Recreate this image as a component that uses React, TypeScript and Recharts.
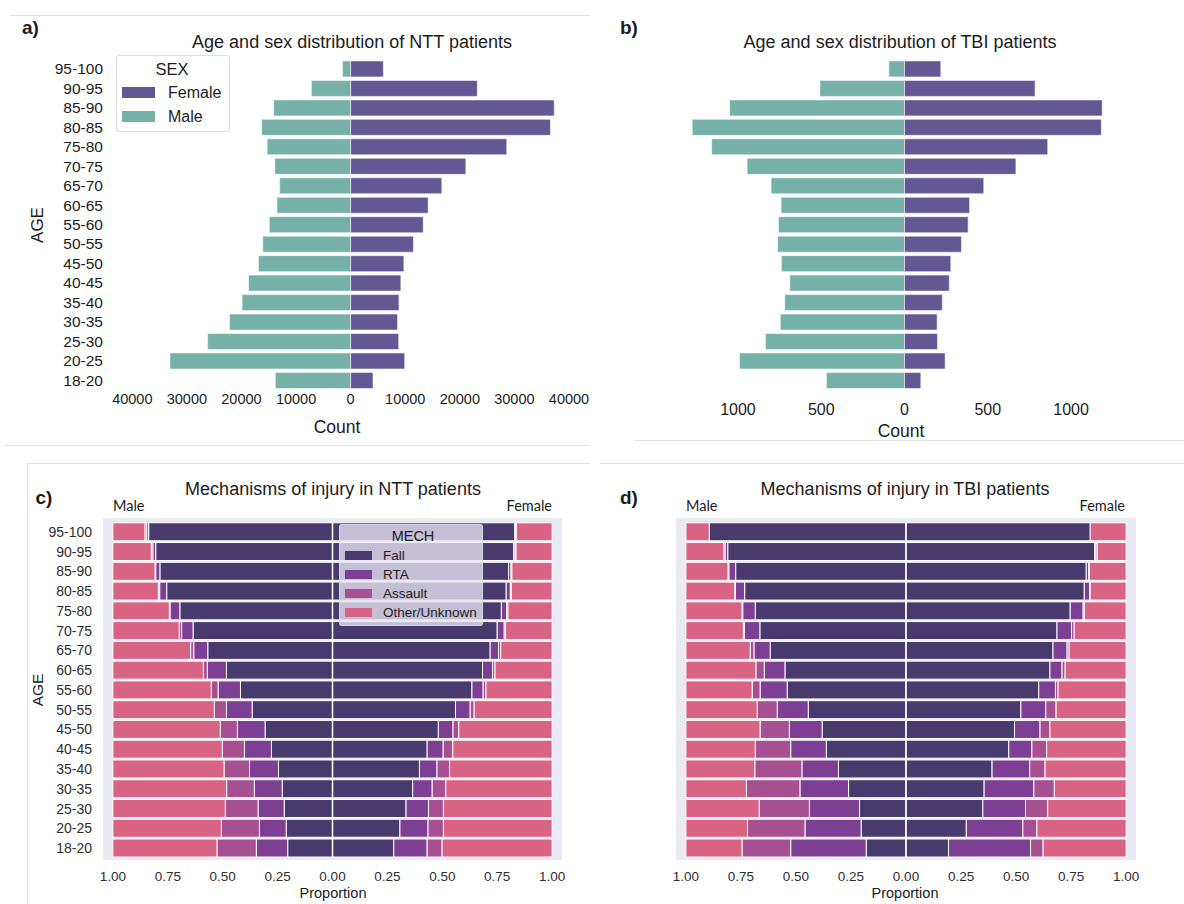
import { Bar, BarChart, ReferenceLine, XAxis, YAxis } from "recharts";

const AGE_GROUPS = [
  "95-100", "90-95", "85-90", "80-85", "75-80", "70-75", "65-70", "60-65", "55-60",
  "50-55", "45-50", "40-45", "35-40", "30-35", "25-30", "20-25", "18-20",
];

// counts per age group
const nttMale = [1500, 7200, 14100, 16300, 15300, 13900, 13000, 13500, 14900, 16100, 16900, 18700, 19900, 22200, 26200, 33100, 13800];
const nttFemale = [6000, 23200, 37300, 36600, 28600, 21100, 16700, 14200, 13300, 11500, 9750, 9200, 8850, 8600, 8800, 9900, 4100];
const tbiMale = [94, 508, 1050, 1275, 1158, 945, 801, 741, 757, 762, 739, 689, 719, 746, 835, 991, 469];
const tbiFemale = [218, 784, 1187, 1182, 860, 669, 476, 391, 382, 342, 278, 269, 227, 196, 198, 244, 98];

const NTT_COUNT_TICKS = [-40000, -30000, -20000, -10000, 0, 10000, 20000, 30000, 40000];
const TBI_COUNT_TICKS = [-1000, -500, 0, 500, 1000];
const PROP_TICKS = [-1, -0.75, -0.5, -0.25, 0, 0.25, 0.5, 0.75, 1];

const MECHS = ["Fall", "RTA", "Assault", "Other/Unknown"];

// proportions of each mechanism per age group
const nttMaleFall = [0.837, 0.805, 0.786, 0.755, 0.695, 0.635, 0.568, 0.483, 0.419, 0.366, 0.307, 0.278, 0.246, 0.229, 0.22, 0.211, 0.204];
const nttMaleRta = [0.009, 0.013, 0.019, 0.032, 0.045, 0.052, 0.064, 0.087, 0.102, 0.117, 0.126, 0.123, 0.132, 0.127, 0.119, 0.122, 0.143];
const nttMaleAssault = [0.008, 0.007, 0.003, 0.006, 0.003, 0.011, 0.014, 0.018, 0.031, 0.055, 0.078, 0.101, 0.116, 0.126, 0.149, 0.173, 0.179];
const nttMaleOther = [0.146, 0.175, 0.192, 0.207, 0.257, 0.302, 0.354, 0.412, 0.448, 0.462, 0.489, 0.498, 0.506, 0.518, 0.512, 0.494, 0.474];

const nttFemaleFall = [0.83, 0.825, 0.802, 0.791, 0.769, 0.75, 0.718, 0.683, 0.635, 0.56, 0.482, 0.431, 0.396, 0.365, 0.335, 0.307, 0.279];
const nttFemaleRta = [0.004, 0.006, 0.011, 0.019, 0.024, 0.032, 0.038, 0.046, 0.051, 0.067, 0.067, 0.073, 0.08, 0.089, 0.102, 0.128, 0.152];
const nttFemaleAssault = [0.003, 0.005, 0.004, 0.004, 0.006, 0.006, 0.01, 0.011, 0.013, 0.018, 0.026, 0.044, 0.057, 0.062, 0.068, 0.07, 0.068];
const nttFemaleOther = [0.163, 0.164, 0.183, 0.186, 0.201, 0.212, 0.234, 0.26, 0.301, 0.355, 0.425, 0.452, 0.467, 0.484, 0.495, 0.495, 0.501];

const tbiMaleFall = [0.894, 0.81, 0.774, 0.733, 0.685, 0.664, 0.617, 0.55, 0.54, 0.444, 0.381, 0.362, 0.307, 0.261, 0.211, 0.204, 0.181];
const tbiMaleRta = [0, 0.012, 0.031, 0.042, 0.057, 0.07, 0.074, 0.094, 0.123, 0.141, 0.149, 0.162, 0.166, 0.221, 0.228, 0.255, 0.343];
const tbiMaleAssault = [0, 0.006, 0.004, 0.003, 0.003, 0.005, 0.017, 0.038, 0.036, 0.091, 0.133, 0.161, 0.214, 0.243, 0.228, 0.261, 0.221];
const tbiMaleOther = [0.106, 0.172, 0.191, 0.222, 0.255, 0.261, 0.292, 0.318, 0.301, 0.324, 0.337, 0.315, 0.313, 0.275, 0.333, 0.28, 0.255];

const tbiFemaleFall = [0.837, 0.858, 0.819, 0.81, 0.746, 0.686, 0.668, 0.654, 0.603, 0.522, 0.493, 0.467, 0.391, 0.355, 0.349, 0.274, 0.193];
const tbiFemaleRta = [0, 0.005, 0.011, 0.024, 0.059, 0.066, 0.064, 0.055, 0.076, 0.113, 0.116, 0.105, 0.171, 0.226, 0.194, 0.257, 0.373];
const tbiFemaleAssault = [0, 0.006, 0.003, 0.003, 0.005, 0.012, 0.009, 0.014, 0.012, 0.047, 0.045, 0.067, 0.07, 0.093, 0.101, 0.064, 0.057];
const tbiFemaleOther = [0.163, 0.131, 0.167, 0.163, 0.19, 0.236, 0.259, 0.277, 0.309, 0.318, 0.346, 0.361, 0.368, 0.326, 0.356, 0.405, 0.377];

const FONT = '"Liberation Sans", Arial, sans-serif';
const INK = "#1c1c1c";
const MALE_COL = "#75b1a6";
const FEMALE_COL = "#635894";
const MECH_COLORS = ["#483a6d", "#7d3f94", "#a64f91", "#d96384"];
const PANEL_BG = "#eaeaf2";
const FRAME = "#e2e2e2";

const sexRows = (male: number[], female: number[]) =>
  AGE_GROUPS.map((age, i) => ({ age, male: -male[i], female: female[i] }));

const mechRows = (male: number[][], female: number[][]) =>
  AGE_GROUPS.map((age, i) => {
    const row: Record<string, number | string> = { age };
    MECHS.forEach((_, k) => {
      row[`m${k}`] = -male[k][i];
      row[`f${k}`] = female[k][i];
    });
    return row;
  });

const nttSex = sexRows(nttMale, nttFemale);
const tbiSex = sexRows(tbiMale, tbiFemale);
const nttMech = mechRows(
  [nttMaleFall, nttMaleRta, nttMaleAssault, nttMaleOther],
  [nttFemaleFall, nttFemaleRta, nttFemaleAssault, nttFemaleOther]
);
const tbiMech = mechRows(
  [tbiMaleFall, tbiMaleRta, tbiMaleAssault, tbiMaleOther],
  [tbiFemaleFall, tbiFemaleRta, tbiFemaleAssault, tbiFemaleOther]
);

const absInt = (v: number) => String(Math.abs(v));
const absProp = (v: number) => Math.abs(v).toFixed(2);

function Note({ x, y, children, size = 16, weight = 400, font = FONT, rotate = 0, align = "center" }: any) {
  const tx = align === "center" ? "-50%" : align === "left" ? "0" : "-100%";
  return (
    <div
      style={{
        position: "absolute",
        left: x,
        top: y,
        transform: `translate(${tx},-50%) rotate(${rotate}deg)`,
        fontSize: size,
        fontWeight: weight,
        fontFamily: font,
        color: INK,
        whiteSpace: "nowrap",
        lineHeight: 1,
      }}
    >
      {children}
    </div>
  );
}

function Rule({ x, y, w, h }: any) {
  return <div style={{ position: "absolute", left: x, top: y, width: w, height: h, background: FRAME }} />;
}

function SexChart({ data, width, domain, ticks, margin, tickMargin, tickSize, showAge }: any) {
  return (
    <BarChart
      width={width}
      height={445}
      data={data}
      layout="vertical"
      stackOffset="sign"
      barCategoryGap="10%"
      margin={margin}
    >
      <XAxis
        type="number"
        domain={domain}
        ticks={ticks}
        tickFormatter={absInt}
        axisLine={false}
        tickLine={false}
        tickSize={0}
        tickMargin={tickMargin}
        height={30}
        tick={{ fontSize: tickSize, fill: INK, fontFamily: FONT }}
      />
      <YAxis
        type="category"
        dataKey="age"
        hide={!showAge}
        width={105}
        axisLine={false}
        tickLine={false}
        tickSize={0}
        tickMargin={2}
        interval={0}
        tick={{ fontSize: 15.5, fill: INK, fontFamily: FONT }}
      />
      <Bar dataKey="male" stackId="s" fill={MALE_COL} stroke="#ffffff" strokeOpacity={0.55} strokeWidth={1} isAnimationActive={false} />
      <Bar dataKey="female" stackId="s" fill={FEMALE_COL} stroke="#ffffff" strokeOpacity={0.55} strokeWidth={1} isAnimationActive={false} />
    </BarChart>
  );
}

function MechChart({ data, width, margin, showAge }: any) {
  return (
    <BarChart
      width={width}
      height={444}
      data={data}
      layout="vertical"
      stackOffset="sign"
      barCategoryGap="4%"
      margin={margin}
    >
      <XAxis
        type="number"
        domain={[-1.045, 1.045]}
        ticks={PROP_TICKS}
        tickFormatter={absProp}
        axisLine={false}
        tickLine={false}
        tickSize={0}
        tickMargin={13}
        height={30}
        allowDataOverflow
        tick={{ fontSize: 13.5, fill: "#2e2e2e", fontFamily: FONT }}
      />
      <YAxis
        type="category"
        dataKey="age"
        hide={!showAge}
        width={103}
        axisLine={false}
        tickLine={false}
        tickSize={0}
        tickMargin={11}
        interval={0}
        tick={{ fontSize: 14, fill: "#2e2e2e", fontFamily: FONT }}
      />
      {MECHS.map((m, k) => (
        <Bar key={`m${k}`} dataKey={`m${k}`} name={m} stackId="s" fill={MECH_COLORS[k]} stroke="#ffffff" strokeWidth={1} isAnimationActive={false} />
      ))}
      {MECHS.map((m, k) => (
        <Bar key={`f${k}`} dataKey={`f${k}`} name={m} stackId="s" fill={MECH_COLORS[k]} stroke="#ffffff" strokeWidth={1} isAnimationActive={false} />
      ))}
      <ReferenceLine x={0} stroke="#ffffff" strokeWidth={1.5} />
    </BarChart>
  );
}

export default function App() {
  return (
    <div style={{ position: "relative", width: 1184, height: 904, background: "#fff", overflow: "hidden", fontFamily: FONT }}>
      <style>{"body{margin:0;background:#fff}"}</style>

      {/* faint panel frames from the original figure */}
      <Rule x={10} y={15} w={580} h={1} />
      <Rule x={5} y={445} w={585} h={1} />
      <Rule x={635} y={440} w={549} h={1} />
      <Rule x={27} y={463} w={563} h={1} />
      <Rule x={27} y={463} w={1} h={441} />
      <Rule x={600} y={463} w={584} h={1} />

      {/* a) */}
      <div style={{ position: "absolute", left: 0, top: 0 }}>
        <SexChart
          data={nttSex}
          width={600}
          domain={[-45000, 40000]}
          ticks={NTT_COUNT_TICKS}
          margin={{ top: 59, right: 31, bottom: 25, left: 0 }}
          tickMargin={4}
          tickSize={14.5}
          showAge
        />
      </div>
      <Note x={22} y={27} size={19} weight={700} align="left">a)</Note>
      <Note x={352} y={42} size={18}>Age and sex distribution of NTT patients</Note>
      <Note x={337} y={428} size={17.5}>Count</Note>
      <Note x={37} y={225} size={17} rotate={-90}>AGE</Note>
      <div
        style={{
          position: "absolute",
          left: 116,
          top: 55,
          width: 114,
          height: 77,
          boxSizing: "border-box",
          border: "1px solid #dedede",
          borderRadius: 3,
          background: "#fff",
        }}
      />
      <Note x={172} y={69} size={16.5}>SEX</Note>
      {[FEMALE_COL, MALE_COL].map((c, i) => (
        <div key={c} style={{ position: "absolute", left: 122, top: 87 + i * 24, width: 33, height: 11, background: c }} />
      ))}
      <Note x={168} y={93} size={16} align="left">Female</Note>
      <Note x={168} y={117} size={16} align="left">Male</Note>

      {/* b) */}
      <div style={{ position: "absolute", left: 600, top: 0 }}>
        <SexChart
          data={tbiSex}
          width={584}
          domain={[-1300, 1300]}
          ticks={TBI_COUNT_TICKS}
          margin={{ top: 59, right: 63, bottom: 25, left: 88 }}
          tickMargin={14}
          tickSize={16}
        />
      </div>
      <Note x={620} y={27} size={19} weight={700} align="left">b)</Note>
      <Note x={900} y={42} size={18}>Age and sex distribution of TBI patients</Note>
      <Note x={901} y={432} size={17.5}>Count</Note>

      {/* c) */}
      <div style={{ position: "absolute", left: 103, top: 518, width: 459, height: 342, background: PANEL_BG }} />
      <div style={{ position: "absolute", left: 0, top: 460 }}>
        <MechChart data={nttMech} width={600} margin={{ top: 62, right: 38, bottom: 16, left: 0 }} showAge />
      </div>
      <Note x={44} y={497} size={19} weight={700}>c)</Note>
      <Note x={333} y={489} size={18}>Mechanisms of injury in NTT patients</Note>
      <Note x={113} y={506} size={14.5} font="Lato, sans-serif" align="left">Male</Note>
      <Note x={552} y={506} size={14.5} font="Lato, sans-serif" align="right">Female</Note>
      <Note x={333} y={893} size={14.5}>Proportion</Note>
      <Note x={38} y={690} size={15.5} rotate={-90}>AGE</Note>
      <div
        style={{
          position: "absolute",
          left: 339,
          top: 524,
          width: 144,
          height: 102,
          boxSizing: "border-box",
          border: "1px solid rgba(220,220,230,0.8)",
          borderRadius: 3,
          background: "rgba(232,230,242,0.78)",
        }}
      />
      <Note x={413} y={536} size={14.5}>MECH</Note>
      {MECHS.map((m, k) => (
        <div key={m}>
          <div style={{ position: "absolute", left: 345, top: 551 + k * 19, width: 27, height: 8.5, background: MECH_COLORS[k] }} />
          <Note x={383} y={556 + k * 19} size={13.5} align="left">{m}</Note>
        </div>
      ))}

      {/* d) */}
      <div style={{ position: "absolute", left: 676, top: 518, width: 460, height: 342, background: PANEL_BG }} />
      <div style={{ position: "absolute", left: 600, top: 460 }}>
        <MechChart data={tbiMech} width={584} margin={{ top: 62, right: 48, bottom: 16, left: 76 }} />
      </div>
      <Note x={620} y={497} size={19} weight={700} align="left">d)</Note>
      <Note x={905} y={489} size={18}>Mechanisms of injury in TBI patients</Note>
      <Note x={686} y={506} size={14.5} font="Lato, sans-serif" align="left">Male</Note>
      <Note x={1125} y={506} size={14.5} font="Lato, sans-serif" align="right">Female</Note>
      <Note x={905} y={893} size={14.5}>Proportion</Note>
    </div>
  );
}
